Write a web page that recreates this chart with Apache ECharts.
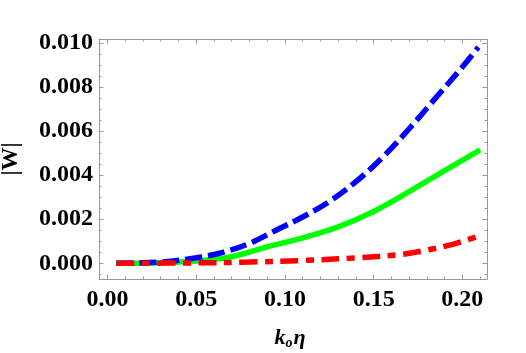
<!DOCTYPE html>
<html>
<head>
<meta charset="utf-8">
<script src="https://cdn.jsdelivr.net/npm/echarts@6/dist/echarts.min.js"></script>
<style>html,body{margin:0;padding:0;background:#fff;}#c{width:526px;height:353px;}</style>
</head>
<body>
<div id="c"></div>
<script>
// ---- data ----
const blueX  = [0.005, 0.03, 0.05, 0.065, 0.08, 0.095, 0.11, 0.125, 0.14, 0.155, 0.17, 0.185, 0.2, 0.209];
const blueY  = [0.0, 0.00006, 0.00025, 0.0005, 0.0009, 0.0015, 0.0021, 0.0028, 0.0037, 0.0048, 0.0061, 0.0075, 0.0089, 0.0098];
const greenX = [0.005, 0.03, 0.05, 0.07, 0.09, 0.11, 0.13, 0.15, 0.17, 0.19, 0.21];
const greenY = [0.0, 0.00003, 0.0001, 0.0003, 0.00075, 0.00115, 0.00165, 0.00235, 0.00325, 0.0042, 0.00514];
const redX   = [0.005, 0.05, 0.08, 0.11, 0.14, 0.165, 0.18, 0.195, 0.208];
const redY   = [0.0, 0.00002, 0.00006, 0.00013, 0.00025, 0.0004, 0.0006, 0.00087, 0.0012];
const xTicks = [0.00, 0.05, 0.10, 0.15, 0.20];
const yTicks = [0.000, 0.002, 0.004, 0.006, 0.008, 0.010];
const xMinorTicks = [0.01,0.02,0.03,0.04,0.06,0.07,0.08,0.09,0.11,0.12,0.13,0.14,0.16,0.17,0.18,0.19,0.21];
const yMinorTicks = [-0.0005,0.0005,0.001,0.0015,0.0025,0.003,0.0035,0.0045,0.005,0.0055,0.0065,0.007,0.0075,0.0085,0.009,0.0095];
const xRange = [-0.0048, 0.2139];
const yRange = [-0.00071, 0.01017];

const pairs = (xs, ys) => xs.map((x, i) => [x, ys[i]]);
const FONT = 'Liberation Serif';
const frameColor = '#999999';

function mkAxis(pos, range, ticks, minor, isX, labelled) {
  const base = {
    type: 'value', position: pos, min: range[0], max: range[1],
    splitLine: {show: false},
    axisLine: {show: true, onZero: false, lineStyle: {color: frameColor, width: 1}},
    axisTick: {show: true, inside: true, length: 4.5, customValues: ticks, lineStyle: {color: frameColor, width: 1}},
    minorTick: {show: false},
    axisLabel: {show: false}
  };
  const minorAxis = {
    type: 'value', position: pos, min: range[0], max: range[1],
    splitLine: {show: false},
    axisLine: {show: false, onZero: false},
    axisTick: {show: true, inside: true, length: 2.5, customValues: minor, lineStyle: {color: frameColor, width: 1}},
    axisLabel: {show: false}
  };
  if (labelled) {
    base.axisLabel = {
      show: true, customValues: ticks,
      margin: isX ? 9 : 6,
      color: '#000', fontFamily: FONT, fontWeight: 'bold', fontSize: 24,
      formatter: v => isX ? v.toFixed(2) : v.toFixed(3)
    };
  }
  return [base, minorAxis];
}

const xAxes = [...mkAxis('bottom', xRange, xTicks, xMinorTicks, true, true), ...mkAxis('top', xRange, xTicks, xMinorTicks, true, false)];
const yAxes = [...mkAxis('left', yRange, yTicks, yMinorTicks, false, true), ...mkAxis('right', yRange, yTicks, yMinorTicks, false, false)];

xAxes[0].name = '{k|k}{o|o}{e|η}';
xAxes[0].nameLocation = 'middle';
xAxes[0].nameGap = 47;
xAxes[0].nameTextStyle = {
  padding: [0, 6, 0, 0],
  rich: {
    k: {fontFamily: FONT, fontWeight: 'bold', fontStyle: 'italic', fontSize: 22, color: '#000'},
    o: {fontFamily: FONT, fontWeight: 'bold', fontStyle: 'italic', fontSize: 14, color: '#000', padding: [10, 1, 0, 0]},
    e: {fontFamily: FONT, fontWeight: 'bold', fontStyle: 'italic', fontSize: 22, color: '#000'}
  }
};
yAxes[0].name = '|W|';
yAxes[0].nameLocation = 'middle';
yAxes[0].nameRotate = 90;
yAxes[0].nameGap = 76;
yAxes[0].nameTextStyle = {fontFamily: FONT, fontWeight: 'bold', fontSize: 23, color: '#000'};

const chart = echarts.init(document.getElementById('c'), null, {renderer: 'canvas'});
chart.setOption({
  animation: false,
  backgroundColor: '#fff',
  grid: {left: 99, top: 39, right: 39, bottom: 74, containLabel: false, outerBoundsMode: 'none'},
  xAxis: xAxes,
  yAxis: yAxes,
  series: [
    {type: 'line', data: pairs(greenX, greenY), showSymbol: false, smooth: 0.35,
     lineStyle: {color: '#00ff00', width: 5.5, type: 'solid', cap: 'butt'}},
    {type: 'line', data: pairs(blueX, blueY), showSymbol: false, smooth: 0.35,
     lineStyle: {color: '#0000ff', width: 5.5, type: [17, 6], cap: 'butt'}},
    {type: 'line', data: pairs(redX, redY), showSymbol: false, smooth: 0.35,
     lineStyle: {color: '#ff0000', width: 5.5, type: [18, 7.5, 8, 7.5], cap: 'butt'}}
  ]
});
</script>
</body>
</html>
